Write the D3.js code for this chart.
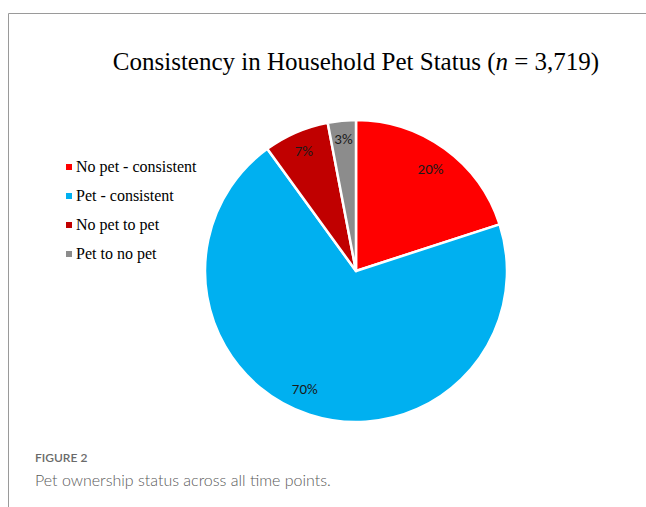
<!DOCTYPE html>
<html>
<head>
<meta charset="utf-8">
<script src="https://cdn.jsdelivr.net/npm/d3@7"></script>
<style>
  body { margin: 0; background: #fff; }
</style>
</head>
<body>
<div id="chart"></div>
<script>
const w = 646;
const h = 507;

// data
const categories = ["No pet - consistent", "Pet - consistent", "No pet to pet", "Pet to no pet"];
const values = [20, 70, 7, 3];
const colors = ["#ff0000", "#00b0f0", "#c00000", "#8c8c8c"];

const svg = d3.select("div#chart").append("svg")
    .attr("width", w)
    .attr("height", h);

// frame lines
svg.append("line")
    .attr("x1", 8.5).attr("y1", 13.5).attr("x2", w).attr("y2", 13.5)
    .attr("stroke", "#9a9a9a").attr("stroke-width", 1);
svg.append("line")
    .attr("x1", 8.5).attr("y1", 13.5).attr("x2", 8.5).attr("y2", h)
    .attr("stroke", "#9a9a9a").attr("stroke-width", 1);

// title
const title = svg.append("text")
    .attr("x", 356)
    .attr("y", 70)
    .attr("text-anchor", "middle")
    .style("font-family", "'Liberation Serif', 'Times New Roman', serif")
    .style("font-size", "25px")
    .attr("fill", "#000");
title.append("tspan").text("Consistency in Household Pet Status (");
title.append("tspan").style("font-style", "italic").text("n");
title.append("tspan").text(" = 3,719)");

// pie
const cx = 356, cy = 271, r = 151;
const pie = d3.pie().sort(null).value(d => d);
const arc = d3.arc().innerRadius(0).outerRadius(r);
const arcs = pie(values);

const g = svg.append("g").attr("transform", "translate(" + cx + "," + cy + ")");

g.selectAll("path")
    .data(arcs)
    .enter()
    .append("path")
    .attr("d", arc)
    .attr("fill", (d, i) => colors[i])
    .attr("stroke", "#fff")
    .attr("stroke-width", 2.5)
    .attr("stroke-linejoin", "round");

// labels (radius factor and small angle nudge, degrees)
const labelR = [0.84, 0.85, 0.87, 0.88];
const labelShift = [0, 5.5, 0, 0];
g.selectAll("text")
    .data(arcs)
    .enter()
    .append("text")
    .attr("transform", function(d, i) {
        const a = (d.startAngle + d.endAngle) / 2 + labelShift[i] * Math.PI / 180;
        const rr = r * labelR[i];
        return "translate(" + (Math.sin(a) * rr) + "," + (-Math.cos(a) * rr) + ")";
    })
    .attr("text-anchor", "middle")
    .attr("dy", "0.35em")
    .style("font-family", "Carlito, 'Open Sans', 'Noto Sans', sans-serif")
    .style("font-size", "15px")
    .attr("fill", "#1a1a1a")
    .text(d => d.data + "%");

// legend
const legend = svg.append("g").attr("transform", "translate(66,167)");
const rows = legend.selectAll("g")
    .data(categories)
    .enter()
    .append("g")
    .attr("transform", (d, i) => "translate(0," + (i * 29) + ")");
rows.append("rect")
    .attr("x", 0).attr("y", -3)
    .attr("width", 6).attr("height", 6)
    .attr("fill", (d, i) => colors[i]);
rows.append("text")
    .attr("x", 10)
    .attr("dy", "0.33em")
    .style("font-family", "'Liberation Serif', 'Times New Roman', serif")
    .style("font-size", "16px")
    .attr("fill", "#000")
    .text(d => d);

// caption
svg.append("text")
    .attr("x", 35).attr("y", 462)
    .style("font-family", "Lato, sans-serif")
    .style("font-size", "12px")
    .style("font-weight", "600")
    .attr("fill", "#6a6a6a")
    .text("FIGURE 2");
svg.append("text")
    .attr("x", 35).attr("y", 486)
    .style("font-family", "Lato, sans-serif")
    .style("font-size", "16px")
    .style("font-weight", "300")
    .attr("fill", "#5a5a5a")
    .text("Pet ownership status across all time points.");
</script>
</body>
</html>
